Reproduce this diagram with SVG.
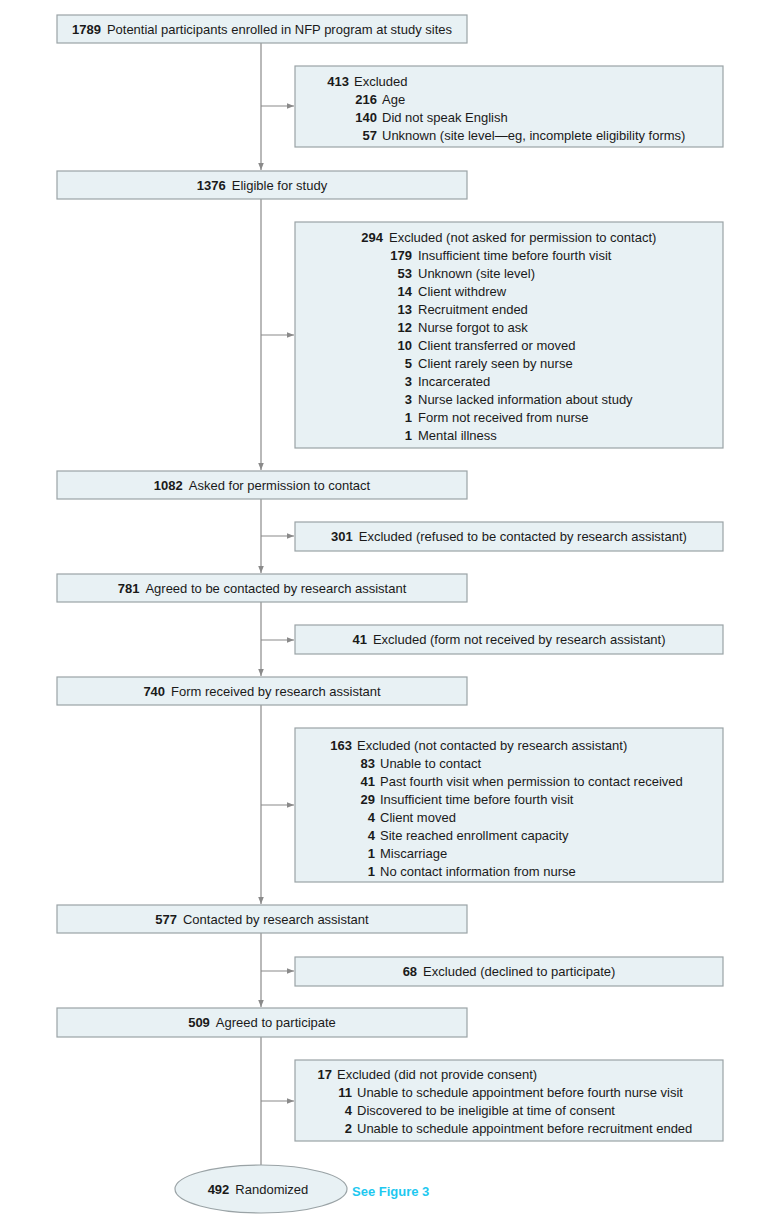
<svg xmlns="http://www.w3.org/2000/svg" width="780" height="1227" viewBox="0 0 780 1227">
<style>
text{font-family:"Liberation Sans Narrow","Liberation Sans",Arial,sans-serif;font-size:13px;fill:#1a1a1a}
.b{font-weight:bold}
.box{fill:#e8f1f4;stroke:#9aa3a6;stroke-width:1.2}
.ln{stroke:#8a8a8a;stroke-width:1.2;fill:none}
.c{text-anchor:middle}
.e{text-anchor:end;font-weight:bold}
.link{fill:#1ec8f0;font-weight:bold}
</style>
<defs>
<marker id="ah" viewBox="0 0 10 10" refX="10" refY="5" markerWidth="7" markerHeight="7" markerUnits="userSpaceOnUse" orient="auto">
<path d="M0,1 L10,5 L0,9 Z" fill="#8a8a8a"/>
</marker>
</defs>
<rect width="780" height="1227" fill="#fff"/>
<g id="connectors">
<line class="ln" x1="261" y1="43" x2="261" y2="170" marker-end="url(#ah)"/>
<line class="ln" x1="261" y1="106" x2="294" y2="106" marker-end="url(#ah)"/>
<line class="ln" x1="261" y1="199" x2="261" y2="470" marker-end="url(#ah)"/>
<line class="ln" x1="261" y1="335" x2="294" y2="335" marker-end="url(#ah)"/>
<line class="ln" x1="261" y1="499" x2="261" y2="573" marker-end="url(#ah)"/>
<line class="ln" x1="261" y1="536" x2="294" y2="536" marker-end="url(#ah)"/>
<line class="ln" x1="261" y1="602" x2="261" y2="676" marker-end="url(#ah)"/>
<line class="ln" x1="261" y1="640" x2="294" y2="640" marker-end="url(#ah)"/>
<line class="ln" x1="261" y1="705" x2="261" y2="904" marker-end="url(#ah)"/>
<line class="ln" x1="261" y1="805" x2="294" y2="805" marker-end="url(#ah)"/>
<line class="ln" x1="261" y1="933" x2="261" y2="1007" marker-end="url(#ah)"/>
<line class="ln" x1="261" y1="971" x2="294" y2="971" marker-end="url(#ah)"/>
<line class="ln" x1="261" y1="1037" x2="261" y2="1165"/>
<line class="ln" x1="261" y1="1101" x2="294" y2="1101" marker-end="url(#ah)"/>
</g>
<g id="n1789">
<rect class="box" x="57" y="15" width="410" height="28"/>
<text class="c" x="262" y="34"><tspan class="b">1789</tspan><tspan dx="6">Potential participants enrolled in NFP program at study sites</tspan></text>
</g>
<g id="x413">
<rect class="box" x="295" y="66" width="428" height="81"/>
<text class="e" x="349" y="86">413</text><text x="354" y="86">Excluded</text>
<text class="e" x="377" y="104">216</text><text x="382" y="104">Age</text>
<text class="e" x="377" y="122">140</text><text x="382" y="122">Did not speak English</text>
<text class="e" x="377" y="140">57</text><text x="382" y="140">Unknown (site level—eg, incomplete eligibility forms)</text>
</g>
<g id="n1376">
<rect class="box" x="57" y="171" width="410" height="28"/>
<text class="c" x="262" y="190"><tspan class="b">1376</tspan><tspan dx="6">Eligible for study</tspan></text>
</g>
<g id="x294">
<rect class="box" x="295" y="222" width="428" height="226"/>
<text class="e" x="383" y="242">294</text><text x="389" y="242">Excluded (not asked for permission to contact)</text>
<text class="e" x="412" y="260">179</text><text x="418" y="260">Insufficient time before fourth visit</text>
<text class="e" x="412" y="278">53</text><text x="418" y="278">Unknown (site level)</text>
<text class="e" x="412" y="296">14</text><text x="418" y="296">Client withdrew</text>
<text class="e" x="412" y="314">13</text><text x="418" y="314">Recruitment ended</text>
<text class="e" x="412" y="332">12</text><text x="418" y="332">Nurse forgot to ask</text>
<text class="e" x="412" y="350">10</text><text x="418" y="350">Client transferred or moved</text>
<text class="e" x="412" y="368">5</text><text x="418" y="368">Client rarely seen by nurse</text>
<text class="e" x="412" y="386">3</text><text x="418" y="386">Incarcerated</text>
<text class="e" x="412" y="404">3</text><text x="418" y="404">Nurse lacked information about study</text>
<text class="e" x="412" y="422">1</text><text x="418" y="422">Form not received from nurse</text>
<text class="e" x="412" y="440">1</text><text x="418" y="440">Mental illness</text>
</g>
<g id="n1082">
<rect class="box" x="57" y="471" width="410" height="28"/>
<text class="c" x="262" y="490"><tspan class="b">1082</tspan><tspan dx="6">Asked for permission to contact</tspan></text>
</g>
<g id="x301">
<rect class="box" x="295" y="522" width="428" height="29"/>
<text class="c" x="509" y="541"><tspan class="b">301</tspan><tspan dx="6">Excluded (refused to be contacted by research assistant)</tspan></text>
</g>
<g id="n781">
<rect class="box" x="57" y="574" width="410" height="28"/>
<text class="c" x="262" y="593"><tspan class="b">781</tspan><tspan dx="6">Agreed to be contacted by research assistant</tspan></text>
</g>
<g id="x41">
<rect class="box" x="295" y="625" width="428" height="29"/>
<text class="c" x="509" y="644"><tspan class="b">41</tspan><tspan dx="6">Excluded (form not received by research assistant)</tspan></text>
</g>
<g id="n740">
<rect class="box" x="57" y="677" width="410" height="28"/>
<text class="c" x="262" y="696"><tspan class="b">740</tspan><tspan dx="6">Form received by research assistant</tspan></text>
</g>
<g id="x163">
<rect class="box" x="295" y="728" width="428" height="154"/>
<text class="e" x="352" y="750">163</text><text x="357" y="750">Excluded (not contacted by research assistant)</text>
<text class="e" x="375" y="768">83</text><text x="380" y="768">Unable to contact</text>
<text class="e" x="375" y="786">41</text><text x="380" y="786">Past fourth visit when permission to contact received</text>
<text class="e" x="375" y="804">29</text><text x="380" y="804">Insufficient time before fourth visit</text>
<text class="e" x="375" y="822">4</text><text x="380" y="822">Client moved</text>
<text class="e" x="375" y="840">4</text><text x="380" y="840">Site reached enrollment capacity</text>
<text class="e" x="375" y="858">1</text><text x="380" y="858">Miscarriage</text>
<text class="e" x="375" y="876">1</text><text x="380" y="876">No contact information from nurse</text>
</g>
<g id="n577">
<rect class="box" x="57" y="905" width="410" height="28"/>
<text class="c" x="262" y="924"><tspan class="b">577</tspan><tspan dx="6">Contacted by research assistant</tspan></text>
</g>
<g id="x68">
<rect class="box" x="295" y="957" width="428" height="29"/>
<text class="c" x="509" y="976"><tspan class="b">68</tspan><tspan dx="6">Excluded (declined to participate)</tspan></text>
</g>
<g id="n509">
<rect class="box" x="57" y="1008" width="410" height="29"/>
<text class="c" x="262" y="1027"><tspan class="b">509</tspan><tspan dx="6">Agreed to participate</tspan></text>
</g>
<g id="x17">
<rect class="box" x="295" y="1060" width="428" height="81"/>
<text class="e" x="332" y="1079">17</text><text x="337" y="1079">Excluded (did not provide consent)</text>
<text class="e" x="352" y="1097">11</text><text x="357" y="1097">Unable to schedule appointment before fourth nurse visit</text>
<text class="e" x="352" y="1115">4</text><text x="357" y="1115">Discovered to be ineligible at time of consent</text>
<text class="e" x="352" y="1133">2</text><text x="357" y="1133">Unable to schedule appointment before recruitment ended</text>
</g>
<g id="n492">
<ellipse class="box" cx="261" cy="1189" rx="86" ry="24"/>
<text class="c" x="258" y="1194"><tspan class="b">492</tspan><tspan dx="6">Randomized</tspan></text>
<text class="link" x="352" y="1196">See Figure 3</text>
</g>
</svg>
